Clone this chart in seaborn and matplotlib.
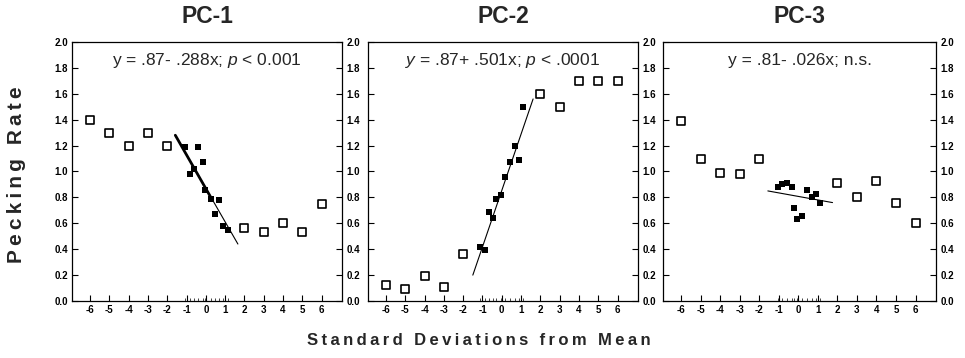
import matplotlib

matplotlib.use("Agg")
import matplotlib.pyplot as plt
import seaborn as sns

# open squares sit on whole SD steps, filled squares are the middle samples
open_x = [-6, -5, -4, -3, -2, 2, 3, 4, 5, 6]

pc1_open_y = [1.40, 1.30, 1.20, 1.30, 1.20, 0.56, 0.53, 0.60, 0.53, 0.75]
pc1_filled_x = [-1.06, -0.82, -0.60, -0.38, -0.17, -0.03, 0.26, 0.48, 0.69, 0.87, 1.15]
pc1_filled_y = [1.19, 0.98, 1.02, 1.19, 1.07, 0.86, 0.79, 0.67, 0.78, 0.58, 0.55]
pc1_fit_x = [-1.58, 1.66]
pc1_fit_y = [1.28, 0.44]
pc1_bold_x = [-1.58, 0.26]
pc1_bold_y = [1.28, 0.80]

pc2_open_y = [0.12, 0.095, 0.19, 0.105, 0.36, 1.60, 1.50, 1.70, 1.70, 1.70]
pc2_filled_x = [-1.12, -0.89, -0.67, -0.46, -0.29, -0.06, 0.18, 0.42, 0.67, 0.89, 1.10]
pc2_filled_y = [0.42, 0.39, 0.69, 0.64, 0.79, 0.82, 0.96, 1.07, 1.20, 1.09, 1.50]
pc2_fit_x = [-1.50, 1.62]
pc2_fit_y = [0.20, 1.56]

pc3_open_y = [1.39, 1.10, 0.99, 0.98, 1.10, 0.91, 0.80, 0.93, 0.76, 0.60]
pc3_filled_x = [-1.05, -0.82, -0.60, -0.34, -0.22, -0.05, 0.21, 0.46, 0.70, 0.93, 1.13]
pc3_filled_y = [0.88, 0.90, 0.91, 0.88, 0.72, 0.63, 0.66, 0.86, 0.80, 0.83, 0.76]
pc3_fit_x = [-1.56, 1.75]
pc3_fit_y = [0.85, 0.76]

titles = ["PC-1", "PC-2", "PC-3"]
equations = [
    "y = .87- .288x; $p$ < 0.001",
    "$y$ = .87+ .501x; $p$ < .0001",
    "y = .81- .026x; n.s.",
]
x_ticks = [-6, -5, -4, -3, -2, -1, 0, 1, 2, 3, 4, 5, 6]
y_ticks = [0.0, 0.2, 0.4, 0.6, 0.8, 1.0, 1.2, 1.4, 1.6, 1.8, 2.0]

sns.set_theme(style="ticks")
plt.rcParams["font.family"] = ["Liberation Sans", "DejaVu Sans"]
plt.rcParams["axes.unicode_minus"] = False
plt.rcParams["mathtext.fontset"] = "custom"
plt.rcParams["mathtext.it"] = "Liberation Sans:italic"
plt.rcParams["mathtext.rm"] = "Liberation Sans"

fig = plt.figure(figsize=(9.65, 3.58), dpi=100)
lefts = [0.0746, 0.3813, 0.687]
widths = [0.2798, 0.2798, 0.283]

panels = [
    (pc1_open_y, pc1_filled_x, pc1_filled_y, pc1_fit_x, pc1_fit_y),
    (pc2_open_y, pc2_filled_x, pc2_filled_y, pc2_fit_x, pc2_fit_y),
    (pc3_open_y, pc3_filled_x, pc3_filled_y, pc3_fit_x, pc3_fit_y),
]

for i, (open_y, filled_x, filled_y, fit_x, fit_y) in enumerate(panels):
    ax = fig.add_axes([lefts[i], 0.1592, widths[i], 0.7235])
    ax.plot(fit_x, fit_y, color="black", lw=0.8, zorder=2)
    if i == 0:
        ax.plot(pc1_bold_x, pc1_bold_y, color="black", lw=2.0, zorder=2)
    sns.scatterplot(x=filled_x, y=filled_y, marker="s", color="black",
                    s=15, linewidth=0, ax=ax, zorder=3)
    sns.scatterplot(x=open_x, y=open_y, marker="s", facecolor="white",
                    edgecolor="black", s=26, linewidth=1.2, ax=ax, zorder=4)

    ax.set_xlim(-6.93, 7.05)
    ax.set_ylim(0, 2.0)
    ax.set_xticks(x_ticks)
    ax.set_xticks(filled_x, minor=True)
    ax.set_yticks(y_ticks)
    ax.set_yticklabels([f"{v:.1f}" for v in y_ticks])
    ax.tick_params(axis="both", which="major", direction="in", length=4,
                   width=0.8, labelsize=7, pad=3, colors="black")
    ax.tick_params(axis="x", which="minor", direction="in", length=2.5, width=0.6)
    ax.tick_params(axis="y", right=True, labelright=True, left=True,
                   labelleft=(i == 0))
    for lab in ax.get_xticklabels() + ax.get_yticklabels():
        lab.set_fontweight("bold")
    for sp in ax.spines.values():
        sp.set_visible(True)
        sp.set_linewidth(0.9)
        sp.set_color("black")

    ax.text(0.5, 0.93, equations[i], transform=ax.transAxes, ha="center",
            va="center", fontsize=12.5)
    fig.text(lefts[i] + widths[i] / 2, 0.955, titles[i], ha="center",
             va="center", fontsize=16.5, fontweight="bold")

fig.text(0.496, 0.05, "\u2009".join("Standard Deviations from Mean"),
         ha="center", va="center", fontsize=12, fontweight="bold")
fig.text(0.0166, 0.511, "\u2009".join("Pecking Rate"), ha="center",
         va="center", rotation=90, fontsize=15, fontweight="bold")

fig.savefig("out.png", dpi=100)
plt.close(fig)
